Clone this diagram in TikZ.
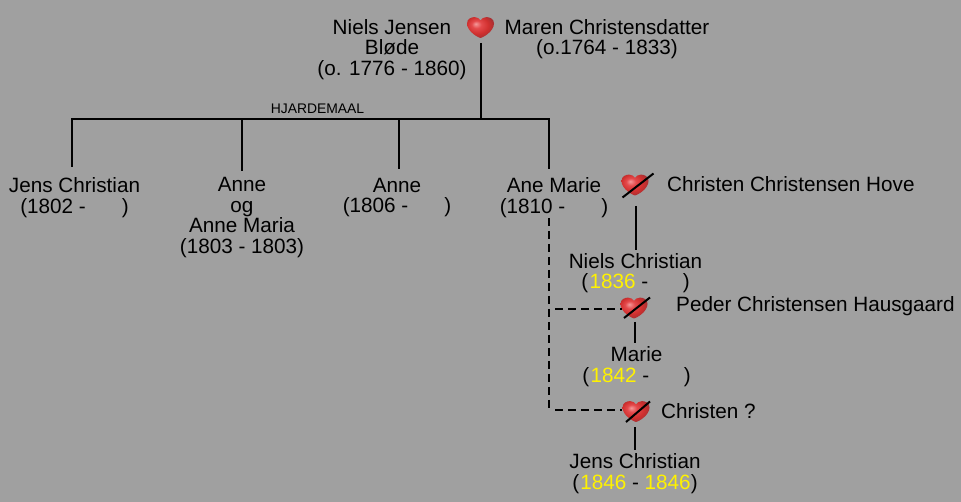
\documentclass[tikz,border=0pt]{standalone}
\usepackage{fontspec}
\setmainfont{Liberation Sans}
\usetikzlibrary{calc}
\definecolor{bgc}{HTML}{A0A0A0}
\definecolor{hA}{HTML}{F49A9A}
\definecolor{hB}{HTML}{E44A4C}
\definecolor{hC}{HTML}{D0302F}
\definecolor{hD}{HTML}{9A2F33}
\pgfdeclareradialshading{hrtshade}{\pgfpoint{-9bp}{9bp}}{color(0bp)=(hA);color(9bp)=(hB);color(20bp)=(hC);color(32bp)=(hD);color(50bp)=(hD)}
\newcommand{\hrtshape}[4]{% name, x, y, scale factor
  \node[heartbox,minimum width=#4*27pt] (#1) at (#2,#3) {};
  \begin{scope}[shift={(#2,#3)},xscale=#4,yscale=#4*0.8]
    \path[shading=hrtshade,shading angle=0] (0,13)
      .. controls (-2,13) and (-13.5,5) .. (-13.5,-5)
      .. controls (-13.5,-11) and (-9,-13) .. (-6,-13)
      .. controls (-3,-13) and (-1,-11) .. (0,-9)
      .. controls (1,-11) and (3,-13) .. (6,-13)
      .. controls (9,-13) and (13.5,-11) .. (13.5,-5)
      .. controls (13.5,5) and (2,13) .. (0,13) -- cycle;
  \end{scope}}
\tikzset{
  heartbox/.style={inner sep=0pt,outer sep=0pt,minimum height=21pt,draw=none},
  person/.style={inner sep=0pt,align=center,text=black,font=\fontsize{20.7}{20.6}\selectfont},
  side/.style={person,anchor=west},
  small/.style={inner sep=0pt,font=\fontsize{13.9}{14}\selectfont},
  link/.style={draw=black,line width=2pt},
  dashlink/.style={draw=black,line width=2pt,dash pattern=on 8pt off 5pt},
  cross/.style={draw=black,line width=2pt}
}
\newcommand{\yr}[1]{\textcolor{yellow}{#1}}
\begin{document}
\begin{tikzpicture}[x=1pt,y=-1pt]
\useasboundingbox (0,0) rectangle (961,502);
\fill[bgc] (0,0) rectangle (961,502);
% people
\node[person] (niels) at (392,49.5) {Niels Jensen\\Bløde\\(o. 1776 - 1860)};
\node[person] (maren) at (607,39) {Maren Christensdatter\\(o.1764 - 1833)};
\node[person] (jc1) at (74.5,197.5) {Jens Christian\\(1802 -\hspace{36pt})};
\node[person] (anne1) at (242,217.5) {Anne\\og\\Anne Maria\\(1803 - 1803)};
\node[person] (anne2) at (397,197.5) {Anne\\(1806 -\hspace{36pt})};
\node[person] (am) at (554,197.5) {Ane Marie\\(1810 -\hspace{36pt})};
\node[side] (cch) at (667,184.5) {Christen Christensen Hove};
\node[person] (nc) at (635.5,273) {Niels Christian\\(\kern1.5pt\yr{1836} -\hspace{34.5pt})};
\node[side] (pch) at (676,306.5) {Peder Christensen Hausgaard};
\node[person] (marie) at (636.5,366.5) {Marie\\(\kern1.5pt\yr{1842} -\hspace{34.5pt})};
\node[side] (chr) at (661,411.5) {Christen ?};
\node[person] (jc2) at (635,473.5) {Jens Christian\\(\kern1pt\yr{1846} - \yr{1846})};
\node[small] (hj) at (317.5,108.5) {HJARDEMAAL};
% hearts
\hrtshape{h1}{480.5}{27.5}{1}
\hrtshape{h2}{635}{185}{1}
\hrtshape{h3}{634}{308}{1}
\hrtshape{h4}{636}{411.5}{1}
% crossings
\draw[cross] ($(h2)+(-12.5,12.5)$) -- ($(h2)+(18.5,-11.5)$);
\draw[cross] ($(h3)+(-10,10)$) -- ($(h3)+(16,-10.5)$);
\draw[cross] ($(h4)+(-10,10.5)$) -- ($(h4)+(14,-10)$);
% tree
\coordinate (b0) at (481,119);
\coordinate (b1) at (72,119);
\coordinate (b2) at (242,119);
\coordinate (b3) at (399,119);
\coordinate (b4) at (549,119);
\draw[link] (b0 |- h1.south) ++(0,5) -- (b0);
\draw[link] ($(b1)+(-1,0)$) -- ($(b4)+(1,0)$);
\draw[link] (b1) -- (72,167);
\draw[link] (b2) -- (242,171);
\draw[link] (b3) -- (399,169);
\draw[link] (b4) -- (549,169);
\draw[link] (636,206) -- (636,250);
\draw[link] (635,322) -- (635,343);
\draw[link] (635,427) -- (635,450);
% dashed
\coordinate (dA) at (549,218);
\coordinate (dB) at (549,309);
\coordinate (dC) at (549,410);
\draw[dashlink] (dA) -- (dC);
\draw[dashlink] (555,309) -- (622,309);
\draw[dashlink] (555,410) -- (622,410);
\end{tikzpicture}
\end{document}
